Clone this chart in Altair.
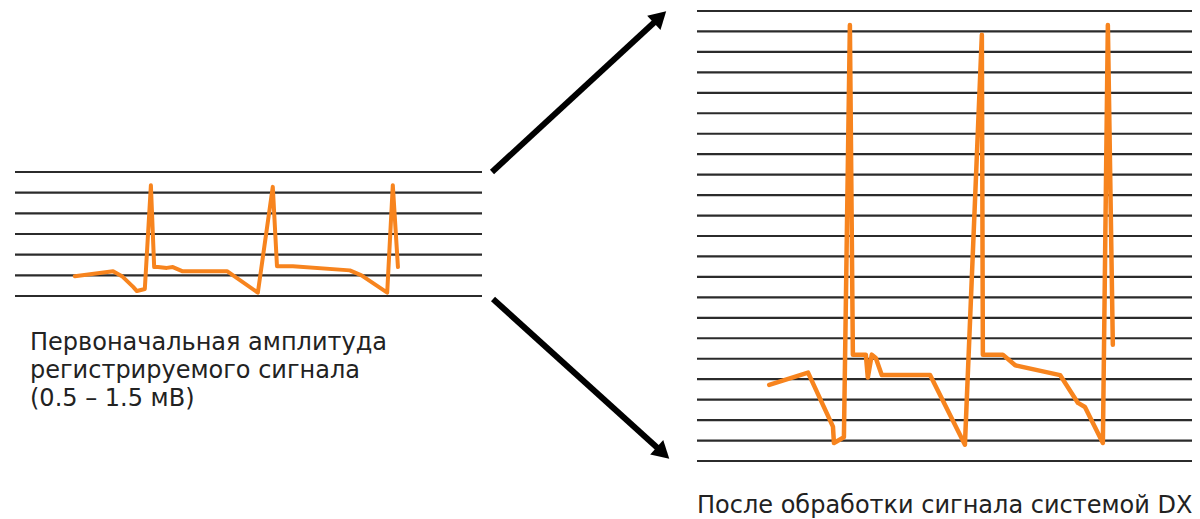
import altair as alt
import pandas as pd

# ---- data ----
# Original signal (time in arbitrary units 0..1000, amplitude in mV)
left_t = [128, 210, 229, 253, 261, 278, 291, 298, 306, 325, 338, 358, 454, 520, 552, 561, 595, 717, 742, 797, 809, 820]
left_v = [0.24, 0.30, 0.24, 0.11, 0.06, 0.085, 1.34, 0.35, 0.35, 0.34, 0.35, 0.30, 0.30, 0.04, 1.32, 0.36, 0.36, 0.31, 0.25, 0.04, 1.34, 0.35]

# Processed (amplified) signal
right_t = [145, 223, 267, 273, 275, 295, 307, 313, 339, 343, 351, 359, 371, 468, 538, 572, 574, 614, 639, 729, 765, 779, 815, 825, 835]
right_v = [0.93, 1.08, 0.50, 0.42, 0.22, 0.29, 5.33, 1.30, 1.30, 1.02, 1.30, 1.26, 1.05, 1.05, 0.20, 5.21, 1.30, 1.30, 1.17, 1.05, 0.71, 0.66, 0.22, 5.33, 1.42]

left_levels = [0.25 * i for i in range(7)]     # 7 lines
right_levels = [0.25 * i for i in range(23)]   # 23 lines

left_caption = ["Первоначальная амплитуда", "регистрируемого сигнала", "(0.5 – 1.5 мВ)"]
right_caption = "После обработки сигнала системой DX"

ORANGE = "#F7841E"
GRID = "#2b2b2b"
FONT = "DejaVu Sans"

left_df = pd.DataFrame({"t": left_t, "v": left_v, "i": range(len(left_t))})
right_df = pd.DataFrame({"t": right_t, "v": right_v, "i": range(len(right_t))})
lg_df = pd.DataFrame({"level": left_levels, "t0": 0, "t1": 1000})
rg_df = pd.DataFrame({"level": right_levels, "t0": 0, "t1": 1000})
one = pd.DataFrame({"k": [0]})

lx = alt.Scale(domain=[0, 1000], range=[7, 474], nice=False, zero=False)
ly = alt.Scale(domain=[0, 1.5], range=[288, 164], nice=False, zero=False)
rx = alt.Scale(domain=[0, 1000], range=[689, 1187], nice=False, zero=False)
ry = alt.Scale(domain=[0, 5.5], range=[453, 3], nice=False, zero=False)

left_grid = alt.Chart(lg_df).mark_rule(color=GRID, strokeWidth=2.2).encode(
    x=alt.X("t0:Q", scale=lx, axis=None),
    x2="t1:Q",
    y=alt.Y("level:Q", scale=ly, axis=None),
)
left_sig = alt.Chart(left_df).mark_line(color=ORANGE, strokeWidth=4, strokeJoin="round", strokeCap="round").encode(
    x=alt.X("t:Q", scale=lx, axis=None),
    y=alt.Y("v:Q", scale=ly, axis=None),
    order="i:Q",
)
right_grid = alt.Chart(rg_df).mark_rule(color=GRID, strokeWidth=2.2).encode(
    x=alt.X("t0:Q", scale=rx, axis=None),
    x2="t1:Q",
    y=alt.Y("level:Q", scale=ry, axis=None),
)
right_sig = alt.Chart(right_df).mark_line(color=ORANGE, strokeWidth=4.5, strokeJoin="round", strokeCap="round").encode(
    x=alt.X("t:Q", scale=rx, axis=None),
    y=alt.Y("v:Q", scale=ry, axis=None),
    order="i:Q",
)

arrow_up = alt.Chart(one).mark_rule(color="black", strokeWidth=6).encode(
    x=alt.value(484), y=alt.value(164), x2=alt.value(651), y2=alt.value(10)
)
arrow_dn = alt.Chart(one).mark_rule(color="black", strokeWidth=6).encode(
    x=alt.value(485), y=alt.value(291), x2=alt.value(654), y2=alt.value(444)
)
head_up = alt.Chart(one).mark_point(shape="triangle-up", filled=True, color="black", opacity=1, size=380, angle=47).encode(
    x=alt.value(652), y=alt.value(9)
)
head_dn = alt.Chart(one).mark_point(shape="triangle-up", filled=True, color="black", opacity=1, size=380, angle=132).encode(
    x=alt.value(655), y=alt.value(445)
)

cap_left = alt.Chart(one).mark_text(
    align="left", baseline="alphabetic", font=FONT, fontSize=24, color="#222", lineHeight=28
).encode(x=alt.value(22), y=alt.value(342), text=alt.value(left_caption))

cap_right = alt.Chart(one).mark_text(
    align="left", baseline="alphabetic", font=FONT, fontSize=24, color="#222"
).encode(x=alt.value(689), y=alt.value(505), text=alt.value(right_caption))

chart = alt.layer(
    left_grid, right_grid, left_sig, right_sig,
    arrow_up, arrow_dn, head_up, head_dn, cap_left, cap_right
).resolve_scale(x="independent", y="independent").properties(
    width=1184, height=511, padding=0, autosize="none"
).configure_view(stroke=None)

chart.save("out.html", embed_options={"renderer": "svg", "actions": False})
